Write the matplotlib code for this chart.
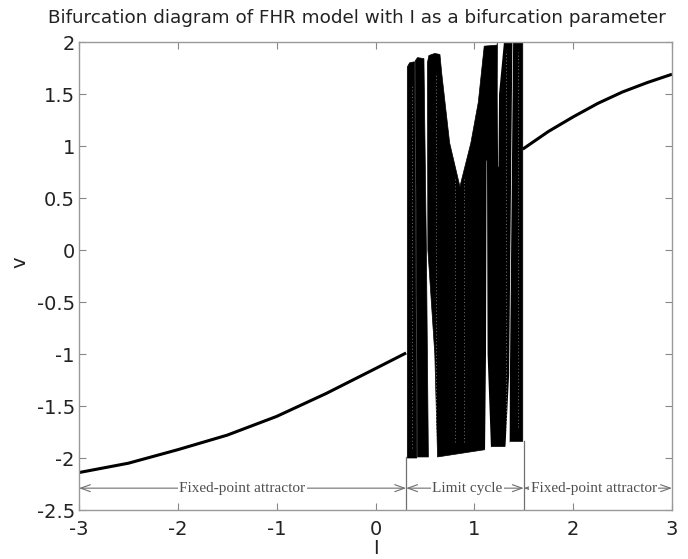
import matplotlib
matplotlib.use("Agg")
import matplotlib.pyplot as plt
from matplotlib.patches import Polygon

# ---------------- data ----------------
# fixed-point branch
I_left = [-3.0, -2.5, -2.0, -1.5, -1.0, -0.5, 0.0, 0.31]
v_left = [-2.14, -2.05, -1.92, -1.78, -1.60, -1.38, -1.14, -0.99]
I_right = [1.49, 1.75, 2.0, 2.25, 2.5, 2.75, 3.0]
v_right = [0.97, 1.14, 1.28, 1.41, 1.52, 1.61, 1.69]

# limit-cycle band outlines (I, v)
bandA1_I = [0.322, 0.322, 0.345, 0.395, 0.418]
bandA1_v = [-2.00, 1.76, 1.80, 1.81, -2.00]
bandA2_I = [0.426, 0.403, 0.425, 0.49, 0.515, 0.535]
bandA2_v = [-1.99, 1.82, 1.85, 1.84, 0.00, -1.99]
bandM_I = [0.628, 0.60, 0.53, 0.525, 0.54, 0.60, 0.652, 0.67, 0.75, 0.854,
           0.965, 1.04, 1.10, 1.23, 1.24, 1.49, 1.49, 1.36, 1.31, 1.175, 1.107]
bandM_v = [-1.99, -1.00, 0.00, 1.80, 1.87, 1.89, 1.88, 1.70, 1.03, 0.61,
           1.03, 1.42, 1.96, 1.97, 2.05, 2.05, -1.84, -1.84, -1.89, -1.89, -1.92]
# white gaps inside the band
gap1_I = [1.108, 1.118, 1.124, 1.128, 1.134, 1.170]
gap1_v = [-1.95, -1.00, 0.86, 0.86, -1.00, -1.95]
gap2_I = [1.238, 1.236, 1.240, 1.244, 1.250, 1.305]
gap2_v = [2.05, 1.50, 0.80, 0.80, 1.50, 2.05]
gap3_I = [1.312, 1.352, 1.386, 1.393, 1.360, 1.357]
gap3_v = [-1.95, -1.20, 2.05, 2.05, -1.20, -1.95]
# faint dotted texture lines inside the band
tex_I = [0.37, 0.61, 0.80, 0.90, 1.32, 1.44]
tex_lo = [-1.90, -1.80, -1.85, -1.85, -1.75, -1.70]
tex_hi = [1.60, 1.70, 0.70, 0.70, 1.90, 1.90]

# regime annotation
bounds_I = [-3.0, 0.31, 1.50, 3.0]
regime_labels = ["Fixed-point attractor", "Limit cycle", "Fixed-point attractor"]
regime_text_I = [-1.35, 0.93, 2.21]
annot_v = -2.29
vline_tops = [-1.99, -1.84]

xticks = [-3, -2, -1, 0, 1, 2, 3]
yticks = [-2.5, -2, -1.5, -1, -0.5, 0, 0.5, 1, 1.5, 2]
ytick_labels = ["-2.5", "-2", "-1.5", "-1", "-0.5", "0", "0.5", "1", "1.5", "2"]

# ---------------- figure ----------------
plt.rcParams['font.family'] = ['DejaVu Sans']
fig = plt.figure(figsize=(6.88, 5.59), dpi=100)
ax = fig.add_axes([79/688, 1-510/559, (672-79)/688, (510-42)/559])

ax.plot(I_left, v_left, color='black', lw=2.2, solid_capstyle='butt')
ax.plot(I_right, v_right, color='black', lw=2.2, solid_capstyle='butt')

for xs, ys in [(bandA1_I, bandA1_v), (bandA2_I, bandA2_v), (bandM_I, bandM_v)]:
    ax.add_patch(Polygon(list(zip(xs, ys)), closed=True, facecolor='black',
                         edgecolor='black', lw=0.5, joinstyle='round'))
for xs, ys in [(gap1_I, gap1_v), (gap2_I, gap2_v), (gap3_I, gap3_v)]:
    ax.add_patch(Polygon(list(zip(xs, ys)), closed=True, facecolor='white',
                         edgecolor='none', lw=0))
ax.vlines(tex_I, tex_lo, tex_hi, colors='white', linestyles=(0, (1, 2.5)),
          lw=0.7, alpha=0.45)

# annotation
gcol = '#707070'
for xb, top in zip(bounds_I[1:3], vline_tops):
    ax.plot([xb, xb], [-2.5, top], color=gcol, lw=0.9)
for i in range(3):
    ax.annotate('', xy=(bounds_I[i], annot_v), xytext=(bounds_I[i+1], annot_v),
                arrowprops=dict(arrowstyle='<->,head_length=0.7,head_width=0.25',
                                color=gcol, lw=0.8, shrinkA=0, shrinkB=0))
    ax.text(regime_text_I[i], annot_v, regime_labels[i], ha='center', va='center',
            fontsize=11, family=['Liberation Serif', 'DejaVu Serif'], color='#505050',
            bbox=dict(facecolor='white', edgecolor='none', pad=1.0))

ax.set_xlim(-3, 3)
ax.set_ylim(-2.5, 2)
ax.set_xticks(xticks)
ax.set_xticklabels([str(t) for t in xticks])
ax.set_yticks(yticks)
ax.set_yticklabels(ytick_labels)
ax.tick_params(direction='in', length=5, width=0.8, color='#888888',
               labelsize=14, labelcolor='#222222', top=True, right=True)
ax.tick_params(axis='x', pad=7)
ax.tick_params(axis='y', pad=3)
for s in ax.spines.values():
    s.set_color('#999999')
    s.set_linewidth(1.0)

fig.text(376/688, 1-549/559, 'I', ha='center', va='center', fontsize=14, color='#222222')
fig.text(20/688, 1-262/559, 'v', ha='center', va='center', rotation=90,
         fontsize=14, color='#222222')
fig.text(357/688, 1-18/559, 'Bifurcation diagram of FHR model with I as a bifurcation parameter',
         ha='center', va='center', fontsize=13.2, color='#222222')

fig.savefig('out.png', dpi=100)
